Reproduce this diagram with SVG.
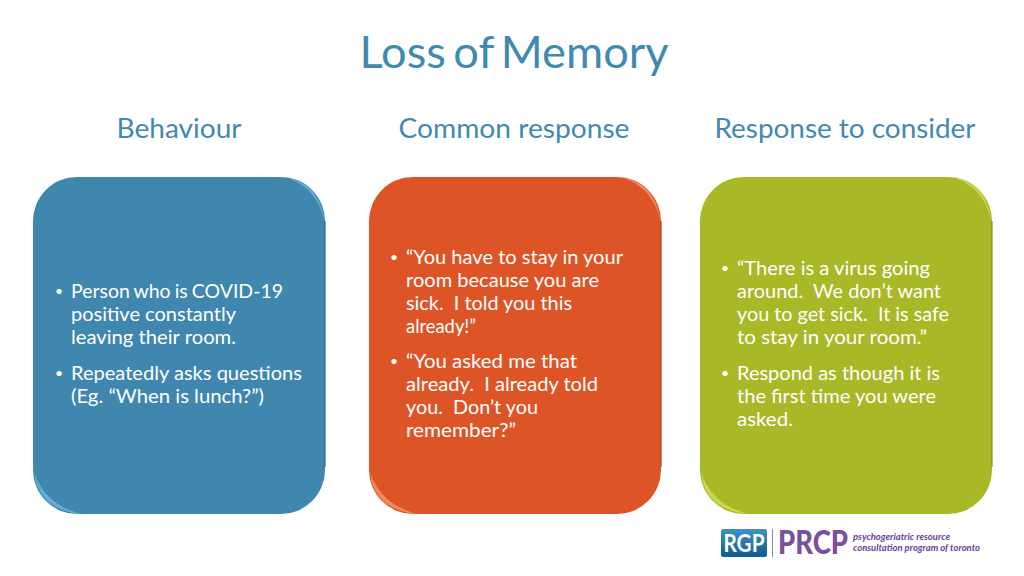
<svg xmlns="http://www.w3.org/2000/svg" width="1024" height="576" viewBox="0 0 1024 576">
<style>
text{font-family:"Lato","Open Sans",sans-serif;white-space:pre}
.h{fill:#418aaf;font-size:27px;text-anchor:middle}
.t{fill:#fff;font-size:19.500px;font-weight:400}
.d{fill:#fff;font-size:14px}
</style>
<defs>
<linearGradient id="lg" x1="0" y1="0" x2="0" y2="1"><stop offset="0" stop-color="#3f93c6"/><stop offset="1" stop-color="#0f5a8e"/></linearGradient>
<path id="cr" d="M254 1Q286 5 292 46Q284 10 254 1Z"/>
<path id="cb" d="M1 296Q6 334 50 337Q14 330 1 296Z"/>
<path id="eg" d="M292 44V290" fill="none" stroke-width="1.200"/>
</defs>
<rect width="1024" height="576" fill="#fff"/>
<text id="title" x="514" y="68" fill="#418aaf" font-size="44" text-anchor="middle" textLength="309" lengthAdjust="spacingAndGlyphs" style="word-spacing:-4px">Loss of Memory</text>
<g id="col1">
<text class="h" x="179" y="138" textLength="125" lengthAdjust="spacingAndGlyphs">Behaviour</text>
<rect x="33" y="177" width="292" height="337" rx="44" fill="#3f87ae"/>
<g transform="translate(33 177)"><use href="#cr" fill="#64add2"/><use href="#cb" fill="#64add2"/><use href="#eg" stroke="#35687f"/></g>
<text class="d" x="55" y="296">•</text>
<text class="t" x="71" y="298" textLength="212" lengthAdjust="spacingAndGlyphs" style="word-spacing:-1px">Person who is COVID-19</text>
<text class="t" x="71" y="321" textLength="165" lengthAdjust="spacingAndGlyphs">positive constantly</text>
<text class="t" x="71" y="344" textLength="165" lengthAdjust="spacingAndGlyphs">leaving their room.</text>
<text class="d" x="55" y="378">•</text>
<text class="t" x="71" y="380" textLength="231" lengthAdjust="spacingAndGlyphs">Repeatedly asks questions</text>
<text class="t" x="71" y="403" textLength="193" lengthAdjust="spacingAndGlyphs">(Eg. “When is lunch?”)</text>
</g>
<g id="col2">
<text class="h" x="514" y="138" textLength="231" lengthAdjust="spacingAndGlyphs">Common response</text>
<rect x="369" y="177" width="292" height="337" rx="44" fill="#dd5527"/>
<g transform="translate(369 177)"><use href="#cr" fill="#ee8a60"/><use href="#cb" fill="#ee8a60"/><use href="#eg" stroke="#a8441f"/></g>
<text class="d" x="390" y="262">•</text>
<text class="t" x="406" y="264" textLength="217" lengthAdjust="spacingAndGlyphs">“You have to stay in your</text>
<text class="t" x="406" y="287" textLength="193" lengthAdjust="spacingAndGlyphs">room because you are</text>
<text class="t" x="406" y="310" textLength="166" lengthAdjust="spacingAndGlyphs">sick.  I told you this</text>
<text class="t" x="406" y="333" textLength="70" lengthAdjust="spacingAndGlyphs">already!”</text>
<text class="d" x="390" y="366">•</text>
<text class="t" x="406" y="368" textLength="171" lengthAdjust="spacingAndGlyphs">“You asked me that</text>
<text class="t" x="406" y="391" textLength="192" lengthAdjust="spacingAndGlyphs">already.  I already told</text>
<text class="t" x="406" y="414" textLength="132" lengthAdjust="spacingAndGlyphs">you.  Don’t you</text>
<text class="t" x="406" y="437" textLength="110" lengthAdjust="spacingAndGlyphs">remember?”</text>
</g>
<g id="col3">
<text class="h" x="845" y="138" textLength="261" lengthAdjust="spacingAndGlyphs">Response to consider</text>
<rect x="700" y="177" width="292" height="337" rx="44" fill="#a8b826"/>
<g transform="translate(700 177)"><use href="#cr" fill="#c8d650"/><use href="#cb" fill="#c8d650"/><use href="#eg" stroke="#818d1d"/></g>
<text class="d" x="721" y="273">•</text>
<text class="t" x="737" y="275" textLength="193" lengthAdjust="spacingAndGlyphs">“There is a virus going</text>
<text class="t" x="737" y="298" textLength="204" lengthAdjust="spacingAndGlyphs">around.  We don’t want</text>
<text class="t" x="737" y="321" textLength="212" lengthAdjust="spacingAndGlyphs">you to get sick.  It is safe</text>
<text class="t" x="737" y="344" textLength="190" lengthAdjust="spacingAndGlyphs">to stay in your room.”</text>
<text class="d" x="721" y="378">•</text>
<text class="t" x="737" y="380" textLength="203" lengthAdjust="spacingAndGlyphs">Respond as though it is</text>
<text class="t" x="737" y="403" textLength="199" lengthAdjust="spacingAndGlyphs">the first time you were</text>
<text class="t" x="737" y="426" textLength="56" lengthAdjust="spacingAndGlyphs">asked.</text>
</g>
<g id="logo">
<rect x="721" y="529" width="46" height="28" rx="2" fill="url(#lg)"/>
<text x="744" y="552" fill="#fff" font-size="24" font-weight="700" text-anchor="middle" textLength="41" lengthAdjust="spacingAndGlyphs">RGP</text>
<path d="M772.500 529V557" stroke="#8a8a8a" stroke-width="1"/>
<text x="778" y="554" fill="#7b4f9e" font-size="33" font-weight="900" textLength="70" lengthAdjust="spacingAndGlyphs">PRCP</text>
<text x="853" y="540" fill="#6a3f94" font-size="9" font-weight="700" font-style="italic" textLength="97" lengthAdjust="spacingAndGlyphs">psychogeriatric resource</text>
<text x="853" y="551" fill="#6a3f94" font-size="9" font-weight="700" font-style="italic" textLength="127" lengthAdjust="spacingAndGlyphs">consultation program of toronto</text>
</g>
</svg>
